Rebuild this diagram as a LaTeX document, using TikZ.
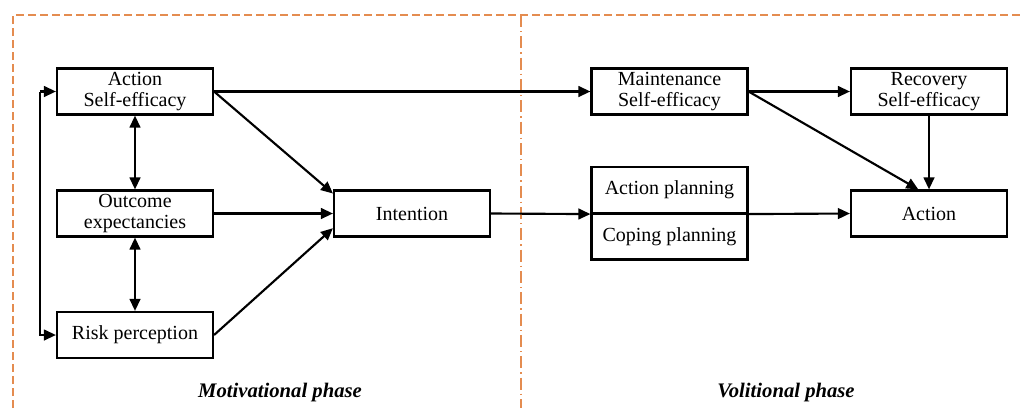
\documentclass[tikz,border=0pt]{standalone}
\usepackage{fontspec}
\setmainfont{Liberation Serif}
\usetikzlibrary{arrows.meta}
\definecolor{phaseorange}{RGB}{228,140,80}

\begin{document}
\begin{tikzpicture}[x=0.75pt,y=-0.75pt,
    box/.style={draw,line width=1.6pt,minimum width=117pt,minimum height=34.5pt,
                align=center,font=\fontsize{15}{15.8}\selectfont,inner sep=2pt},
    link/.style={line width=1.6pt,-{Triangle[length=9pt,width=8pt]}},
    twolink/.style={line width=1.6pt,{Triangle[length=9pt,width=8pt]}-{Triangle[length=9pt,width=8pt]}},
    phase/.style={font=\fontsize{15.5}{17}\selectfont\bfseries\itshape},
    frame/.style={phaseorange,line width=1.5pt}]
  \useasboundingbox (0,0) rectangle (1021,408);

  % phase frame
  \draw[frame,dash pattern=on 6pt off 3pt] (13,408) -- (13,15) -- (1021,15);
  \draw[frame,dash pattern=on 9pt off 3pt on 1pt off 3pt] (521,15) -- (521,408);

  % motivational phase
  \node[box] (ase) at (135,91.5) {Action\\Self-efficacy};
  \node[box] (oe) at (135,213.5) {Outcome\\expectancies};
  \node[box] (rp) at (135,335) {Risk perception};
  \node[box] (int) at (412,213.5) {Intention};

  % volitional phase
  \node[box] (mse) at (669.5,91.5) {Maintenance\\Self-efficacy};
  \node[box] (rse) at (929,91.5) {Recovery\\Self-efficacy};
  \node[box] (actplan) at (669.5,190) {Action planning};
  \node[box] (copeplan) at (669.5,236.5) {Coping planning};
  \node[box] (act) at (929,213.5) {Action};

  \draw[twolink] (ase) -- (oe);
  \draw[twolink] (oe) -- (rp);
  \draw[link] ([xshift=-12pt]ase.west) |- (rp.west);
  \draw[link] ([xshift=-12pt]ase.west) -- (ase.west);
  \draw[link] (ase.east) -- ([yshift=15pt]int.west);
  \draw[link] (oe.east) -- (int.west);
  \draw[link] (rp.east) -- ([yshift=-11pt]int.west);
  \draw[link] (ase.east) -- (mse.west);
  \draw[link] (int.east) -- (actplan.south west);
  \draw[link] (actplan.south east) -- (act.west);
  \draw[link] (mse.east) -- (rse.west);
  \draw[link] (mse.east) -- ([xshift=-8pt]act.north);
  \draw[link] (rse) -- (act);

  \node[phase] (motiv) at (280,393) {Motivational phase};
  \node[phase] (volit) at (786,393) {Volitional phase};
\end{tikzpicture}
\end{document}
